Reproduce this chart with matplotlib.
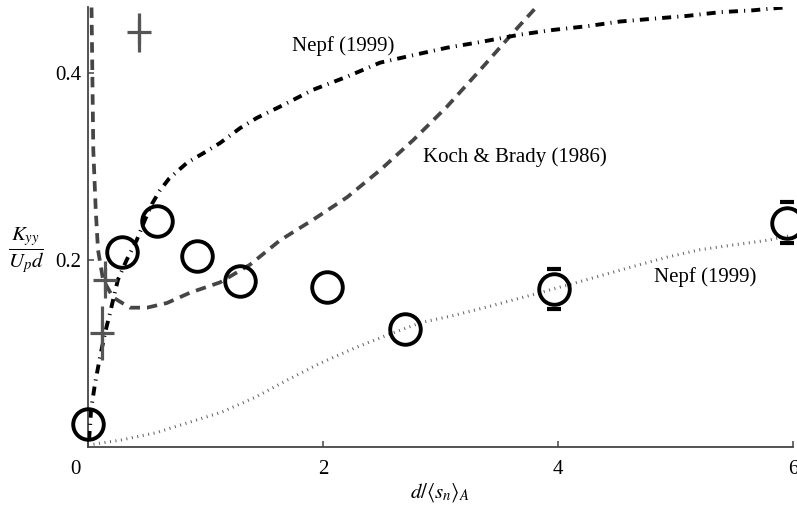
import matplotlib
matplotlib.use("Agg")
import matplotlib.pyplot as plt
import matplotlib.transforms as mtransforms
import numpy as np

plt.rcParams['font.family'] = ['Liberation Serif', 'DejaVu Serif']
plt.rcParams['mathtext.fontset'] = 'stix'
plt.rcParams['lines.scale_dashes'] = False

# measured dispersion (circles)
x_meas = [0.00, 0.287, 0.585, 0.930, 1.294, 2.03, 2.695, 3.97, 5.95]
y_meas = [0.025, 0.209, 0.242, 0.204, 0.178, 0.171, 0.126, 0.169, 0.240]
# only the last two points carry visible error bars
x_err = [3.97, 5.95]
y_err = [0.169, 0.240]
err_meas = [0.0215, 0.022]

# earlier runs (crosses)
x_plus = [0.117, 0.145, 0.437]
y_plus = [0.122, 0.179, 0.4435]
err_plus = [0.029, 0.020, 0.021]

# Koch & Brady (1986)
x_kb = [0.030, 0.037, 0.045, 0.066, 0.085, 0.128, 0.213, 0.357, 0.502, 0.672,
        0.868, 1.123, 1.379, 1.634, 1.915, 2.204, 2.485, 2.766, 3.055, 3.336,
        3.617, 3.813]
y_kb = [0.470, 0.400, 0.318, 0.253, 0.211, 0.179, 0.160, 0.149, 0.149, 0.154,
        0.165, 0.176, 0.195, 0.221, 0.243, 0.267, 0.296, 0.328, 0.364, 0.403,
        0.443, 0.470]

# Nepf (1999), upper curve
x_n1 = [0.0085, 0.017, 0.026, 0.060, 0.102, 0.145, 0.187, 0.213, 0.255, 0.329,
        0.414, 0.485, 0.545, 0.610, 0.690, 0.843, 0.979, 1.123, 1.294, 1.438,
        1.634, 1.915, 2.204, 2.485, 2.766, 3.055, 3.336, 3.677, 3.957, 4.247,
        4.528, 4.809, 5.098, 5.379, 5.660, 5.872, 5.95]
y_n1 = [0.0075, 0.021, 0.040, 0.068, 0.096, 0.122, 0.143, 0.157, 0.179, 0.200,
        0.221, 0.243, 0.260, 0.274, 0.287, 0.304, 0.314, 0.325, 0.341, 0.352,
        0.364, 0.382, 0.396, 0.411, 0.419, 0.427, 0.433, 0.441, 0.446, 0.450,
        0.455, 0.458, 0.461, 0.465, 0.467, 0.4695, 0.470]

# Nepf (1999), lower curve
x_n2 = [0.0, 0.281, 0.570, 0.851, 1.132, 1.421, 1.702, 1.983, 2.272, 2.553,
        2.834, 3.123, 3.404, 3.787, 4.162, 4.638, 4.928, 5.209, 5.489, 5.779,
        5.974]
y_n2 = [0.002, 0.0075, 0.015, 0.026, 0.037, 0.053, 0.072, 0.090, 0.106, 0.120,
        0.133, 0.141, 0.150, 0.163, 0.176, 0.193, 0.203, 0.211, 0.216, 0.221,
        0.226]

fig = plt.figure(figsize=(7.97, 5.11), dpi=100)
ax = fig.add_axes([88 / 797, 64 / 511, 705 / 797, 439.5 / 511])

grey = '#454545'
ax.plot(x_n2, y_n2, color='#606060', lw=2.2, dashes=(0.7, 3.3),
        dash_capstyle='butt', zorder=1)
ax.plot(x_kb, y_kb, color=grey, lw=2.7, dashes=(7.5, 5.0),
        dash_capstyle='butt', zorder=2)
ax.plot(x_n1, y_n1, color='black', lw=2.8, dashes=(6.5, 4.4, 0.8, 4.4),
        dash_capstyle='butt', zorder=3)

ax.errorbar(x_plus, y_plus, yerr=err_plus, fmt='+', color='#555555',
            ms=17, mew=2.3, elinewidth=2.3, capsize=0, zorder=4)

ax.plot(x_meas, y_meas, 'o', mfc='none', mec='black', ms=22, mew=2.8,
        zorder=5, clip_on=False)
ax.errorbar(x_err, y_err, yerr=err_meas, fmt='none', ecolor='black',
            elinewidth=0, capsize=4.8, capthick=3.0, zorder=5, clip_on=False)

ax.text(2.17, 0.4287, 'Nepf (1999)', fontsize=15, ha='center', va='center')
ax.text(3.634, 0.310, 'Koch & Brady (1986)', fontsize=15, ha='center', va='center')
ax.text(5.25, 0.182, 'Nepf (1999)', fontsize=15, ha='center', va='center')

ax.set_xlim(0, 6)
ax.set_ylim(0, 0.47)
ax.set_xticks([0, 2, 4, 6])
ax.set_yticks([0.2, 0.4])
ax.set_xticklabels(['0', '2', '4', '6'])
ax.set_yticklabels(['0.2', '0.4'])

for side in ['top', 'right']:
    ax.spines[side].set_visible(False)
for side in ['left', 'bottom']:
    ax.spines[side].set_color(grey)
    ax.spines[side].set_linewidth(1.3)

ax.tick_params(direction='in', length=4, width=1.1, color=grey,
               labelsize=15, labelcolor='black')
ax.tick_params(axis='x', pad=9)
ax.tick_params(axis='y', pad=5)

# the zero label sits a little left of the axis
lbl0 = ax.get_xticklabels()[0]
lbl0.set_transform(lbl0.get_transform() +
                   mtransforms.ScaledTranslation(-0.13, 0, fig.dpi_scale_trans))

fig.text(26 / 797, 1 - 250 / 511, r'$\dfrac{K_{yy}}{U_p d}$', fontsize=15,
         ha='center', va='center')
fig.text(440 / 797, 1 - 493 / 511, r'$d/\langle s_n\rangle_A$', fontsize=15,
         ha='center', va='center')

fig.savefig('out.png', dpi=100)
